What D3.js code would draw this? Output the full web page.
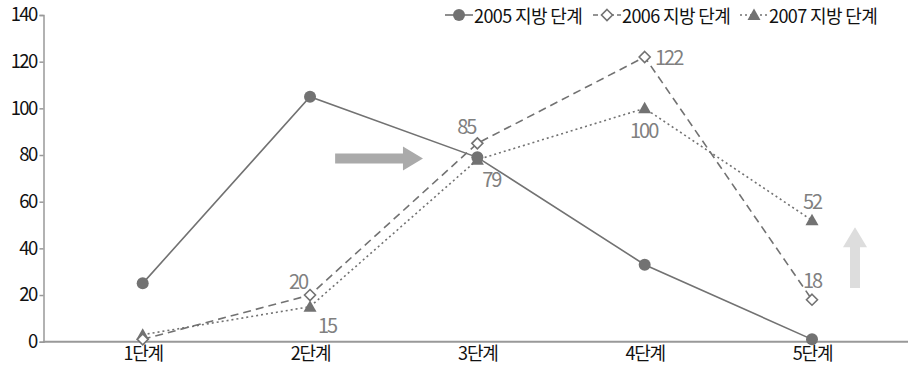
<!DOCTYPE html>
<html><head><meta charset="utf-8">
<script src="https://cdn.jsdelivr.net/npm/d3@7"></script>
<style>
body{margin:0;background:#fff;}
text{font-family:"Noto Sans CJK KR","Noto Sans",sans-serif;}
</style></head>
<body><svg id="c" width="908" height="371"></svg>
<script>
const categories = ["1단계","2단계","3단계","4단계","5단계"];
const series2005 = [25, 105, 79, 33, 1];
const series2006 = [1, 20, 85, 122, 18];
const series2007 = [3, 15, 78, 100, 52];
const seriesNames = ["2005 지방 단계","2006 지방 단계","2007 지방 단계"];
const yTicks = [0,20,40,60,80,100,120,140];
// value labels: [seriesIndex, categoryIndex, text]
const valueLabels = [[1,1,"20"],[2,1,"15"],[1,2,"85"],[0,2,"79"],[1,3,"122"],[2,3,"100"],[2,4,"52"],[1,4,"18"]];

const svg = d3.select("#c");
const x = d3.scalePoint().domain(categories).range([142.7, 812]);
const y = d3.scaleLinear().domain([0,140]).range([341.7, 15]);
const axisColor = "#999";
const lineColor = "#727272";
const font = "'Noto Sans CJK KR'";

// y axis
const ya = svg.append("g").attr("transform","translate(43.5,0)")
  .call(d3.axisLeft(y).tickValues(yTicks).tickSize(4).tickPadding(3));
ya.select(".domain").attr("stroke",axisColor).attr("stroke-width",1.5);
ya.selectAll(".tick line").attr("stroke",axisColor).attr("stroke-width",1.5);
ya.selectAll(".tick text").attr("font-size",18.5).attr("fill","#111")
  .attr("font-family",font).attr("letter-spacing","-1.7px");

// x axis
svg.append("line").attr("x1",43).attr("x2",908).attr("y1",y(0)).attr("y2",y(0))
  .attr("stroke",axisColor).attr("stroke-width",2);
const xa = svg.append("g").attr("transform",`translate(0,${y(0)})`)
  .call(d3.axisBottom(x).tickSize(0).tickPadding(6));
xa.select(".domain").remove();
xa.selectAll(".tick text").attr("font-size",18).attr("fill","#111")
  .attr("font-family",font).attr("letter-spacing","-1.2px");

// arrows (annotations)
function arrowRight(x0, x1, v){
  const yc = y(v);
  const hw = 5, hh = 12, hl = 20;
  svg.append("path").attr("fill","#aaa")
    .attr("d",`M${x0},${yc-hw}L${x1-hl},${yc-hw}L${x1-hl},${yc-hh}L${x1},${yc}L${x1-hl},${yc+hh}L${x1-hl},${yc+hw}L${x0},${yc+hw}Z`);
}
function arrowUp(cx, v0, v1){
  const y0 = y(v0), y1 = y(v1);
  const hw = 5, hh = 12, hl = 20;
  svg.append("path").attr("fill","#ddd")
    .attr("d",`M${cx-hw},${y0}L${cx-hw},${y1+hl}L${cx-hh},${y1+hl}L${cx},${y1}L${cx+hh},${y1+hl}L${cx+hw},${y1+hl}L${cx+hw},${y0}Z`);
}
const between = (i,j,t) => x(categories[i]) + (x(categories[j])-x(categories[i]))*t;
arrowRight(between(1,2,0.15), between(1,2,0.675), 78.5);
arrowUp(x(categories[4])+43, 23, 49);

// lines
const all = [series2005, series2006, series2007];
const dashes = [null, "8,5", "2,3"];
const line = d3.line().x((d,i)=>x(categories[i])).y(d=>y(d));
all.forEach((s,k)=>{
  svg.append("path").datum(s).attr("d",line).attr("fill","none")
    .attr("stroke",lineColor).attr("stroke-width",1.6)
    .attr("stroke-dasharray",dashes[k]);
});

// markers
function marker(g, k, cx, cy){
  if(k===0){
    g.append("circle").attr("cx",cx).attr("cy",cy).attr("r",6).attr("fill",lineColor);
  } else if(k===1){
    g.append("path").attr("d",`M${cx},${cy-5.5}L${cx+5.5},${cy}L${cx},${cy+5.5}L${cx-5.5},${cy}Z`)
      .attr("fill","#fff").attr("stroke",lineColor).attr("stroke-width",1.6);
  } else {
    g.append("path").attr("d",`M${cx},${cy-6.5}L${cx+6.5},${cy+5}L${cx-6.5},${cy+5}Z`)
      .attr("fill",lineColor);
  }
}
const mg = svg.append("g");
[2,1,0].forEach(k=>{
  all[k].forEach((v,i)=>marker(mg,k,x(categories[i]),y(v)));
});

// value labels
const offsets = {"1,1":[-12,-15],"2,1":[17,18],"1,2":[-11,-18],"0,2":[14,21],"1,3":[24,-1],"2,3":[-1,21],"2,4":[0,-20],"1,4":[0,-20]};
valueLabels.forEach(([k,i,t])=>{
  const o = offsets[k+","+i];
  svg.append("text").attr("x",x(categories[i])+o[0]).attr("y",y(all[k][i])+o[1])
    .attr("text-anchor","middle").attr("dominant-baseline","central")
    .attr("font-size",20).attr("fill","#808080").attr("letter-spacing","-2px").text(t);
});

// legend
const legX = [445, 593, 740];
const legY = 15;
seriesNames.forEach((n,k)=>{
  const g = svg.append("g");
  g.append("line").attr("x1",legX[k]).attr("x2",legX[k]+28).attr("y1",legY).attr("y2",legY)
    .attr("stroke",lineColor).attr("stroke-width",1.6).attr("stroke-dasharray",dashes[k]?(k===1?"5,3":"2,3"):null);
  marker(g,k,legX[k]+14,legY);
  g.append("text").attr("x",legX[k]+29).attr("y",legY).attr("dominant-baseline","central")
    .attr("font-size",18).attr("fill","#111").attr("letter-spacing","-0.6px").text(n);
});
</script></body></html>
